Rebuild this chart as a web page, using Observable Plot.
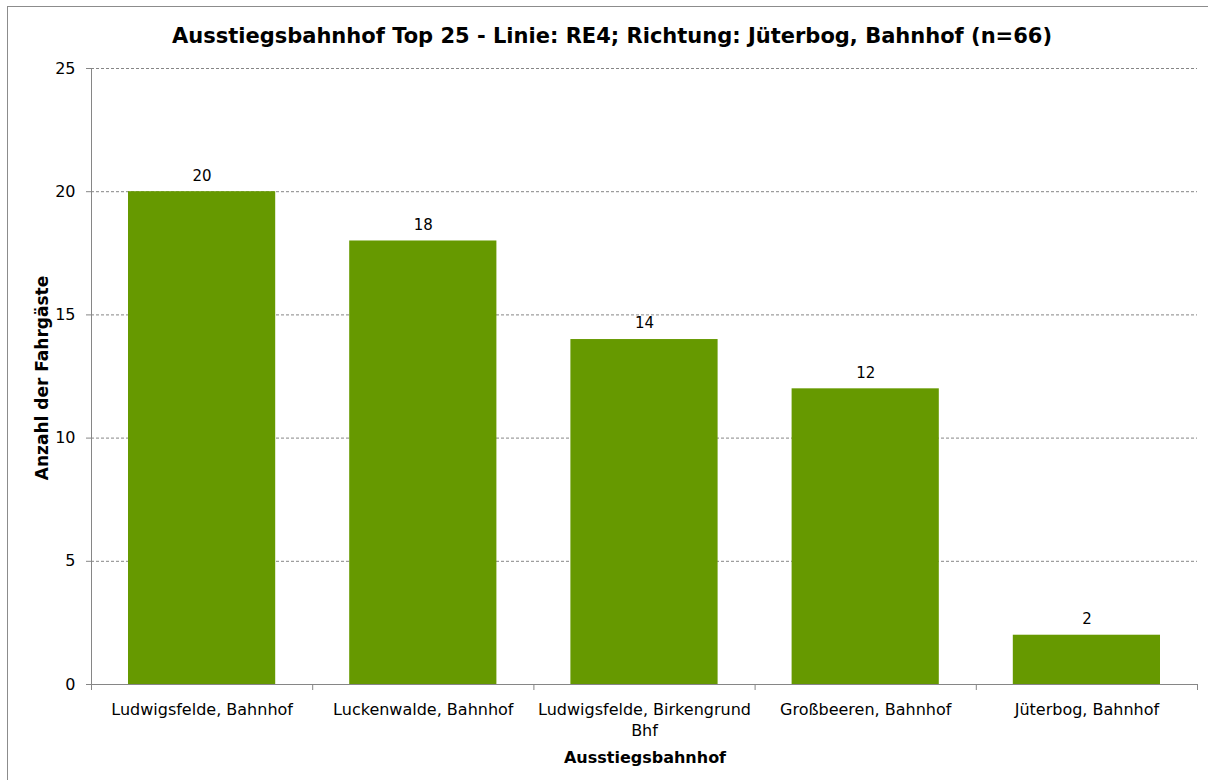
<!DOCTYPE html>
<html>
<head>
<meta charset="utf-8">
<script src="https://cdn.jsdelivr.net/npm/d3@7"></script>
<script src="https://cdn.jsdelivr.net/npm/@observablehq/plot@0.6"></script>
<style>
  html, body { margin: 0; padding: 0; background: #fff; overflow: hidden; width: 1208px; height: 780px; }
  #wrap { position: relative; width: 1208px; height: 780px; font-family: "DejaVu Sans", Verdana, sans-serif; }
  #frame { position: absolute; left: 7px; top: 6px; width: 1212px; height: 800px; border: 1px solid #8c8c8c; box-sizing: border-box; }
  #title { position: absolute; left: 7px; width: 1210px; top: 22px; text-align: center; font-weight: bold; font-size: 21px; line-height: 28px; color: #000; }
  #ylabel { position: absolute; left: 42px; top: 378px; transform: translate(-50%, -50%) rotate(-90deg); white-space: nowrap; font-weight: bold; font-size: 17px; color: #000; }
  #xlabel { position: absolute; left: 645px; top: 757px; transform: translate(-50%, -50%); white-space: nowrap; font-weight: bold; font-size: 16px; color: #000; }
  #chart { position: absolute; left: 0; top: 0; }
</style>
</head>
<body>
<div id="wrap">
  <div id="frame"></div>
  <div id="chart"></div>
  <div id="title"></div>
  <div id="ylabel"></div>
  <div id="xlabel"></div>
</div>
<script>
const titleText = "Ausstiegsbahnhof Top 25 - Linie: RE4; Richtung: Jüterbog, Bahnhof (n=66)";
const yLabelText = "Anzahl der Fahrgäste";
const xLabelText = "Ausstiegsbahnhof";
const categories = ["Ludwigsfelde, Bahnhof", "Luckenwalde, Bahnhof", "Ludwigsfelde, Birkengrund Bhf", "Großbeeren, Bahnhof", "Jüterbog, Bahnhof"];
const values = [20, 18, 14, 12, 2];
const tickLabels = ["Ludwigsfelde, Bahnhof", "Luckenwalde, Bahnhof", "Ludwigsfelde, Birkengrund\nBhf", "Großbeeren, Bahnhof", "Jüterbog, Bahnhof"];
const yTicks = [0, 5, 10, 15, 20, 25];
const gridTicks = [5, 10, 15, 20, 25];

document.getElementById("title").textContent = titleText;
document.getElementById("ylabel").textContent = yLabelText;
document.getElementById("xlabel").textContent = xLabelText;

const data = categories.map((c, i) => ({name: c, value: values[i], i}));
const boundaries = d3.range(categories.length + 1);
const centers = categories.map((c, i) => i + 0.5);

const axisColor = "#868686";

const chart = Plot.plot({
  width: 1208,
  height: 780,
  marginTop: 68,
  marginBottom: 96,
  marginLeft: 91,
  marginRight: 11,
  style: {fontFamily: "'DejaVu Sans', Verdana, sans-serif", fontSize: "15px", color: "#000", background: "transparent"},
  x: {type: "linear", domain: [0, categories.length]},
  y: {domain: [0, 25]},
  marks: [
    Plot.ruleY(gridTicks, {stroke: axisColor, strokeDasharray: "3,2", strokeWidth: 1, strokeOpacity: 1}),
    Plot.rectY(data, {x1: d => d.i, x2: d => d.i + 1, y1: 0, y2: "value", fill: "#669900", insetLeft: 37, insetRight: 37}),
    Plot.text(data, {x: d => d.i + 0.5, y: "value", text: d => String(d.value), dy: -16, fontSize: 15, fill: "#000"}),
    Plot.axisY({ticks: yTicks, tickSize: 5, tickPadding: 11, label: null, stroke: axisColor, fill: "#000", fontSize: 16}),
    Plot.ruleX([0], {stroke: axisColor, strokeOpacity: 1}),
    Plot.ruleY([0], {stroke: axisColor, strokeOpacity: 1}),
    Plot.axisX({ticks: boundaries, tickSize: 6, tickFormat: () => "", label: null, stroke: axisColor}),
    Plot.axisX({ticks: centers, tickSize: 0, tickPadding: 16, label: null, fill: "#000", fontSize: 16, lineHeight: 1.3,
      tickFormat: d => tickLabels[Math.round(d - 0.5)]})
  ]
});
document.getElementById("chart").appendChild(chart);
</script>
</body>
</html>
